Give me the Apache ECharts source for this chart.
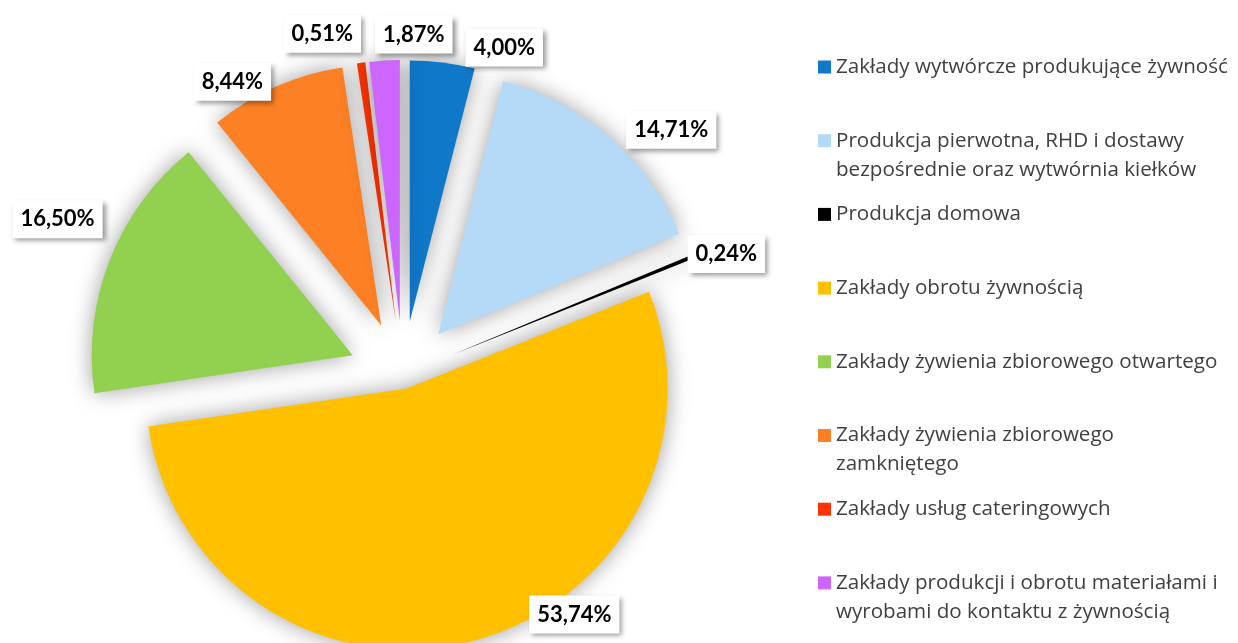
<!DOCTYPE html>
<html>
<head>
<meta charset="utf-8">
<script src="https://cdn.jsdelivr.net/npm/echarts@6/dist/echarts.min.js"></script>
<style>
html, body { margin: 0; padding: 0; background: #fff; }
#main { width: 1238px; height: 643px; }
</style>
</head>
<body>
<div id="main"></div>
<script>
// dane
var names = [
	'Zakłady wytwórcze produkujące żywność',
	'Produkcja pierwotna, RHD i dostawy bezpośrednie oraz wytwórnia kiełków',
	'Produkcja domowa',
	'Zakłady obrotu żywnością',
	'Zakłady żywienia zbiorowego otwartego',
	'Zakłady żywienia zbiorowego zamkniętego',
	'Zakłady usług cateringowych',
	'Zakłady produkcji i obrotu materiałami i wyrobami do kontaktu z żywnością'
];
var legendLabels = [
	'Zakłady wytwórcze produkujące żywność',
	'Produkcja pierwotna, RHD i dostawy\nbezpośrednie oraz wytwórnia kiełków',
	'Produkcja domowa',
	'Zakłady obrotu żywnością',
	'Zakłady żywienia zbiorowego otwartego',
	'Zakłady żywienia zbiorowego\nzamkniętego',
	'Zakłady usług cateringowych',
	'Zakłady produkcji i obrotu materiałami i\nwyrobami do kontaktu z żywnością'
];
var values = [4.00, 14.71, 0.24, 53.74, 16.50, 8.44, 0.51, 1.87];
var colors = ['#0F78C9', '#B4DAF7', '#000000', '#FFC000', '#92D050', '#FD8124', '#FF3300', '#CC66FF'];
var bigIndex = 3;

// przesunięcia etykiet (jak w Excelu)
var labelShift = [[18, -15], [12, -7], [-12, -2], [133, 97], [-2, -41], [0, -5], [5, -29], [73, -26]];

var chart = echarts.init(document.getElementById('main'));

function fmt(v) {
	return v.toFixed(2).replace('.', ',') + '%';
}

//seria kołowa - showBig: tylko duży wycinek albo wszystkie pozostałe
function buildSeries(offset, showBig) {
	return {
		type: 'pie',
		center: [403, 375],
		radius: 261,
		startAngle: 90,
		clockwise: true,
		selectedMode: 'multiple',
		selectedOffset: offset,
		avoidLabelOverlap: false,
		silent: true,
		animation: false,
		itemStyle: {
			borderWidth: 0,
			shadowBlur: 22,
			shadowColor: 'rgba(0,0,0,0.38)'
		},
		label: {
			show: true,
			position: 'outside',
			formatter: function (p) { return fmt(p.value); },
			fontFamily: 'Lato',
			fontWeight: 'bold',
			fontSize: 22,
			lineHeight: 26,
			color: '#000',
			backgroundColor: '#fff',
			padding: [6, 8],
			shadowColor: 'rgba(0,0,0,0.4)',
			shadowBlur: 5,
			shadowOffsetX: 3,
			shadowOffsetY: 3,
			distanceToLabelLine: 5
		},
		labelLine: { show: false, length: 0, length2: 0 },
		labelLayout: function (params) {
			var s = labelShift[params.dataIndex];
			return { dx: s[0], dy: s[1] };
		},
		data: names.map(function (n, i) {
			var visible = (i === bigIndex) === showBig;
			var item = {
				name: n,
				value: values[i],
				selected: visible,
				itemStyle: {
					color: visible ? colors[i] : 'rgba(0,0,0,0)',
					shadowBlur: visible ? 22 : 0
				},
				label: { show: visible }
			};
			if (i === bigIndex) item.label.position = 'inside';
			return item;
		})
	};
}

//legenda - osobno dla każdej pozycji, ikonka przy pierwszej linii
var legendStartY = 67;
var legendStepY = 73.7;
var legendLineH = 29;
var legends = names.map(function (n, i) {
	var lines = legendLabels[i].split('\n').length;
	var shown = lines > 1 ? ' \n' + legendLabels[i] : legendLabels[i];
	var block = (lines > 1 ? lines + 1 : 1) * legendLineH;
	return {
		left: 818,
		top: legendStartY + i * legendStepY - block / 2,
		orient: 'vertical',
		padding: 0,
		itemWidth: 13,
		itemHeight: 13,
		icon: 'rect',
		selectedMode: false,
		data: [{
			name: n,
			itemStyle: { color: colors[i], borderWidth: 0 }
		}],
		formatter: function () {
			return shown;
		},
		textStyle: {
			fontFamily: 'Open Sans',
			fontSize: 20.6,
			color: '#404040',
			lineHeight: legendLineH
		}
	};
});

chart.setOption({
	backgroundColor: '#fff',
	animation: false,
	legend: legends,
	series: [buildSeries(54, false), buildSeries(14, true)]
});
</script>
</body>
</html>
